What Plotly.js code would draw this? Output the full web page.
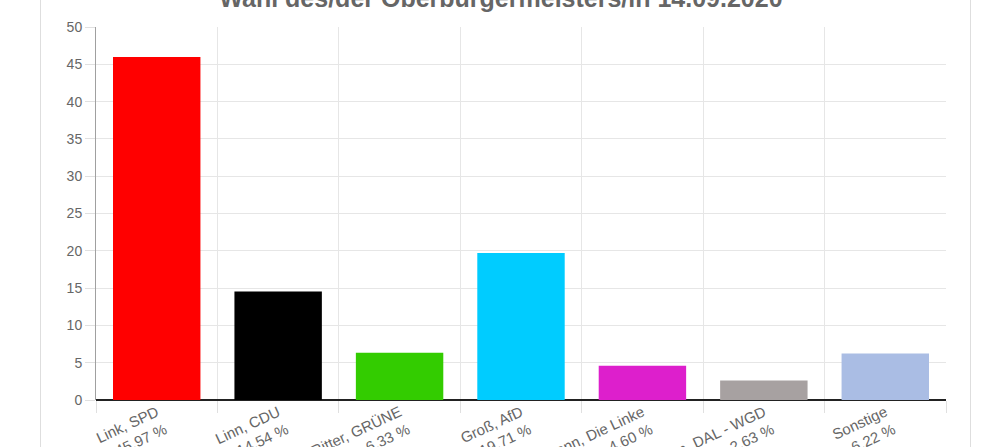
<!DOCTYPE html>
<html lang="de">
<head>
<meta charset="utf-8">
<script src="https://cdn.plot.ly/plotly-3.0.1.min.js"></script>
<style>
  html, body { margin: 0; padding: 0; background: #fff; overflow: hidden; }
  /* Rahmen der Karte, in der das Diagramm sitzt */
  .karte { position: absolute; left: 40px; top: 0; width: 929px; height: 447px;
           border-left: 1px solid #dedede; border-right: 1px solid #dedede; }
  #chart { position: absolute; left: 0; top: 0; width: 994px; height: 447px; }
</style>
</head>
<body>
<div class="karte"></div>
<div id="chart"></div>
<script>
// Ergebnis der OB-Wahl
const kandidaten = ['Link', 'Linn', 'Ritter', 'Groß', 'Lehmann', 'Yildirim', 'Sonstige'];
const parteien = ['SPD', 'CDU', 'GRÜNE', 'AfD', 'Die Linke', 'DAL - WGD', ''];
const prozente = [45.97, 14.54, 6.33, 19.71, 4.60, 2.63, 6.22];
const farben = ['#ff0000', '#000000', '#33cc00', '#00ccff', '#dd1fcc', '#a7a1a1', '#aabde4'];

const TITEL = 'Wahl des/der Oberbürgermeisters/in 14.09.2020';
const GRAU_TEXT = '#666666';
const SCHRIFT = '"Liberation Sans", Arial, Helvetica, sans-serif';

// Beschriftung: "Name, Partei" + Zeile mit dem Prozentwert
const beschriftungen = kandidaten.map((k, i) => {
  const kopf = parteien[i] ? `${k}, ${parteien[i]}` : k;
  return `${kopf}<br>${prozente[i].toFixed(2)} %`;
});

const trace = {
  type: 'bar',
  x: beschriftungen,
  y: prozente,
  marker: { color: farben, line: { width: 0 } },
  hovertemplate: '%{y:.2f} %<extra></extra>',
};

const layout = {
  width: 994,
  height: 447,
  margin: { t: 27, r: 48, b: 47, l: 96 },
  showlegend: false,
  bargap: 0.28,
  // der Titel ragt in der Vorlage oben aus dem Bild heraus
  title: {
    text: TITEL,
    font: { family: SCHRIFT, size: 25, color: GRAU_TEXT, weight: 'bold' },
    x: 0.504, xanchor: 'center',
    yref: 'container', y: 1 - 7 / 447, yanchor: 'bottom',
  },
  xaxis: {
    type: 'category',
    tickson: 'boundaries',
    ticks: 'outside',
    ticklen: 12,
    tickcolor: '#e0e0e0',
    tickangle: -25,
    showgrid: true,
    gridcolor: '#e6e6e6',
    showline: false,
    tickfont: { family: SCHRIFT, size: 15, color: GRAU_TEXT },
    automargin: false,
  },
  yaxis: {
    range: [0, 50],
    dtick: 5,
    ticks: 'outside',
    ticklen: 10,
    tickcolor: '#e0e0e0',
    showgrid: true,
    gridcolor: '#e6e6e6',
    showline: true,
    linecolor: '#a0a0a0',
    linewidth: 1,
    zeroline: true,
    zerolinecolor: '#222222',
    zerolinewidth: 2,
    tickfont: { family: SCHRIFT, size: 14, color: GRAU_TEXT },
    automargin: false,
  },
  paper_bgcolor: 'rgba(0,0,0,0)',
  plot_bgcolor: 'rgba(0,0,0,0)',
  font: { family: SCHRIFT, size: 14, color: GRAU_TEXT },
};

Plotly.newPlot('chart', [trace], layout, { displayModeBar: false, staticPlot: true });
</script>
</body>
</html>
